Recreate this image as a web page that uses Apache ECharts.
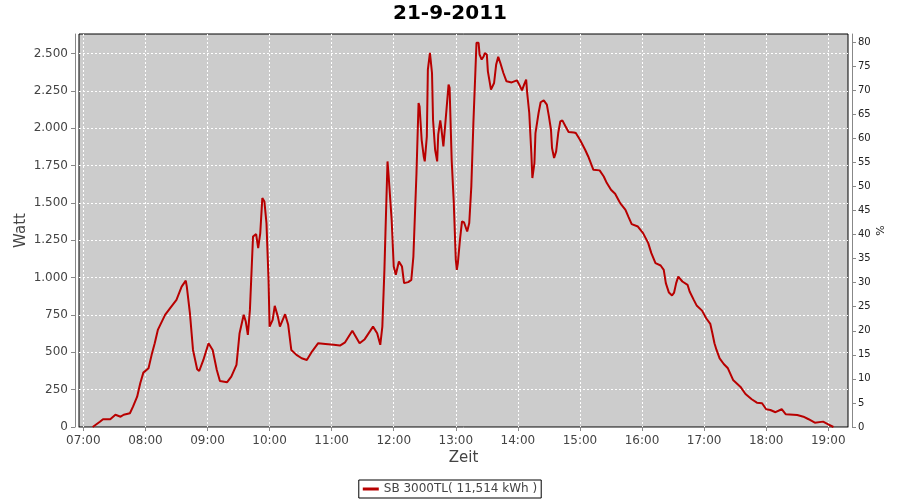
<!DOCTYPE html>
<html><head><meta charset="utf-8">
<script src="https://cdn.jsdelivr.net/npm/echarts@6/dist/echarts.min.js"></script>
<style>html,body{margin:0;padding:0;background:#fff}#c{width:900px;height:500px}</style>
</head><body><div id="c"></div>
<script>
const chartTitle = '21-9-2011';
const seriesName = 'SB 3000TL( 11,514 kWh )';
const times = [
'07:09','07:11','07:16','07:19','07:26','07:31','07:36','07:39','07:45','07:48',
'07:52','07:55','07:58','08:03','08:06','08:09','08:12','08:19','08:25','08:30',
'08:35','08:39','08:40','08:43','08:46','08:50','08:52','08:56','09:01','09:05',
'09:09','09:12','09:19','09:23','09:28','09:31','09:35','09:37','09:39','09:41',
'09:44','09:47','09:49','09:51','09:53','09:55','09:57','09:59','10:00','10:03',
'10:05','10:08','10:10','10:15','10:18','10:21','10:26','10:31','10:36','10:41',
'10:47','10:54','11:02','11:08','11:13','11:20','11:27','11:32','11:40','11:44',
'11:47','11:49','11:51','11:52','11:54','11:55','11:58','12:00','12:02','12:05',
'12:08','12:10','12:14','12:17','12:19','12:22','12:24','12:25','12:27','12:29',
'12:30','12:32','12:33','12:35','12:37','12:38','12:40','12:42','12:43','12:45',
'12:46','12:48','12:51','12:53','12:54','12:56','12:58','13:00','13:01','13:02',
'13:04','13:06','13:08','13:11','13:13','13:15','13:17','13:19','13:20','13:22',
'13:23','13:25','13:27','13:28','13:30','13:31','13:34','13:35','13:37','13:39',
'13:41','13:43','13:46','13:49','13:54','13:59','14:01','14:04','14:06','14:08',
'14:09','14:11','14:13','14:14','14:16','14:17','14:20','14:22','14:25','14:28',
'14:30','14:32','14:33','14:35','14:37','14:39','14:41','14:43','14:46','14:49',
'14:54','14:56','15:00','15:05','15:08','15:13','15:19','15:23','15:26','15:30',
'15:34','15:38','15:40','15:44','15:47','15:50','15:56','16:01','16:06','16:09',
'16:13','16:18','16:21','16:23','16:26','16:29','16:31','16:33','16:35','16:39',
'16:44','16:46','16:50','16:53','16:58','17:02','17:06','17:08','17:10','17:12',
'17:15','17:19','17:23','17:28','17:35','17:40','17:46','17:51','17:56','18:00',
'18:04','18:09','18:15','18:19','18:30','18:36','18:41','18:47','18:55','19:00','19:05'
];
const watts = [
0,10,35,52,52,82,69,82,92,136,
203,293,364,393,483,561,650,751,806,851,
940,980,940,762,516,387,375,449,561,516,
382,308,300,337,416,628,751,706,617,784,
1275,1291,1198,1298,1533,1510,1365,985,672,717,
811,739,672,755,684,516,483,460,449,505,
561,556,550,545,567,645,561,588,672,628,
550,672,1052,1298,1778,1689,1387,1074,1019,1108,
1074,963,970,985,1141,1700,2169,2146,1923,1811,
1778,1946,2393,2504,2370,2057,1856,1778,1957,2053,
2002,1879,2125,2292,2270,1789,1510,1119,1052,1097,
1253,1376,1369,1309,1365,1611,2035,2393,2572,2572,
2493,2460,2482,2504,2493,2381,2259,2247,2303,2426,
2478,2438,2370,2314,2307,2321,2297,2254,2292,2326,
2236,2102,1834,1667,1767,1968,2102,2174,2187,2158,
2080,1990,1868,1801,1845,1968,2046,2053,2013,1975,
1972,1968,1923,1856,1811,1722,1718,1677,1633,1588,
1561,1510,1488,1454,1405,1358,1342,1298,1231,1164,
1097,1081,1052,963,900,880,900,963,1007,974,
952,907,851,811,779,728,690,628,561,516,
460,422,393,315,270,221,186,163,159,119,
114,99,119,85,80,69,52,29,36,18,0
];
const hourTicks = ['07:00','08:00','09:00','10:00','11:00','12:00','13:00','14:00','15:00','16:00','17:00','18:00','19:00'];
const wattTicks = [0,250,500,750,1000,1250,1500,1750,2000,2250,2500];
const pctTicks = [0,5,10,15,20,25,30,35,40,45,50,55,60,65,70,75,80];
const wattMax = 2631;
const pctMax = 81.7;

function toH(s){const p=s.split(':').map(Number);return p[0]+p[1]/60;}
function fmtH(v){const h=Math.floor(v+1e-6);const m=Math.round((v-h)*60);return String(h).padStart(2,'0')+':'+String(m).padStart(2,'0');}
function fmtDE(v){return String(Math.round(v)).replace(/\B(?=(\d{3})+(?!\d))/g,'.');}

const FONT = 'DejaVu Sans';
const hourVals = hourTicks.map(toH);

const chart = echarts.init(document.getElementById('c'), null, {renderer:'canvas'});
chart.setOption({
  animation:false,
  backgroundColor:'#ffffff',
  title:{text:chartTitle,left:'center',top:-1,padding:5,
    textStyle:{fontFamily:FONT,fontSize:20,fontWeight:'bold',color:'#000'}},
  legend:{bottom:2,left:'center',data:[seriesName],
    borderColor:'#000',borderWidth:1,borderRadius:0,padding:[3,4],
    itemWidth:16,itemHeight:3,icon:'rect',
    textStyle:{fontFamily:FONT,fontSize:12,color:'#444'}},
  grid:{left:79,right:52,top:34,bottom:73,show:true,backgroundColor:'#cccccc',
    borderColor:'#000',borderWidth:1,containLabel:false},
  xAxis:{type:'value',min:6.93,max:19.318,offset:4,
    name:'Zeit',nameLocation:'middle',nameGap:20,nameMoveOverlap:false,
    nameTextStyle:{fontFamily:FONT,fontSize:15,color:'#444'},
    axisLine:{show:true,lineStyle:{color:'#888',width:1}},
    axisTick:{show:true,length:4,lineStyle:{color:'#888'},customValues:hourVals},
    axisLabel:{customValues:hourVals,formatter:fmtH,margin:4,
      fontFamily:FONT,fontSize:12,color:'#444'},
    splitLine:{show:true,customValues:hourVals,lineStyle:{color:'#ffffff',type:[2,2],width:1}}},
  yAxis:[
    {type:'value',min:0,max:wattMax,interval:250,offset:4,position:'left',
      name:'Watt',nameLocation:'middle',nameGap:46,nameMoveOverlap:false,
      nameTextStyle:{fontFamily:FONT,fontSize:15,color:'#444'},
      axisLine:{show:true,lineStyle:{color:'#888',width:1}},
      axisTick:{show:true,length:4,lineStyle:{color:'#888'},customValues:wattTicks},
      axisLabel:{customValues:wattTicks,formatter:fmtDE,margin:7,
        fontFamily:FONT,fontSize:12,color:'#444'},
      splitLine:{show:true,lineStyle:{color:'#ffffff',type:[2,2],width:1}}},
    {type:'value',min:0,max:pctMax,interval:5,offset:4,position:'right',
      name:'%',nameLocation:'middle',nameGap:24,nameMoveOverlap:false,
      nameTextStyle:{fontFamily:FONT,fontSize:11,color:'#222'},
      axisLine:{show:true,lineStyle:{color:'#888',width:1}},
      axisTick:{show:true,length:4,lineStyle:{color:'#888'},customValues:pctTicks},
      axisLabel:{customValues:pctTicks,margin:6,fontFamily:FONT,fontSize:10,color:'#222'},
      splitLine:{show:false}}
  ],
  series:[
    {
      name:seriesName,type:'line',yAxisIndex:0,showSymbol:false,
      data:times.map((t,i)=>[toH(t),watts[i]]),
      lineStyle:{color:'#b80000',width:2},itemStyle:{color:'#b80000'},
      z:10
    }
  ]
});
</script></body></html>
